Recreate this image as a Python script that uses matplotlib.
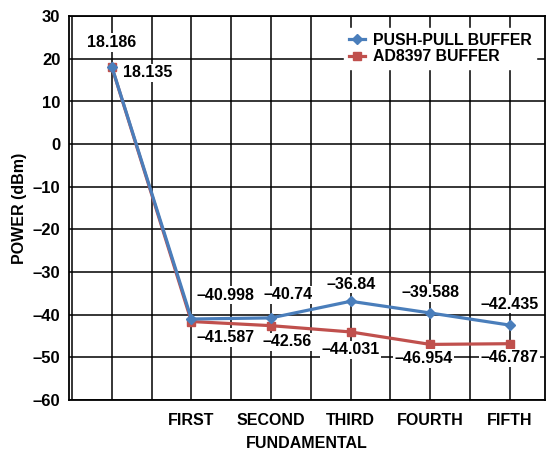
import matplotlib.pyplot as plt
import numpy as np

plt.rcParams['font.family'] = ['Liberation Sans', 'DejaVu Sans']
plt.rcParams['font.weight'] = 'bold'

categories = ['', 'FIRST', 'SECOND', 'THIRD', 'FOURTH', 'FIFTH']
push_pull = [18.186, -40.998, -40.74, -36.84, -39.588, -42.435]
ad8397 = [18.135, -41.587, -42.56, -44.031, -46.954, -46.787]

# label offsets in pixels (dx, dy), dy positive = up
pp_offsets = [(0, 24), (34, 24), (17, 23), (0, 17), (0, 20), (0, 21)]
ad_offsets = [(36, -6), (34, -16), (16, -16), (0, -18), (-7, -14), (0, -14)]

blue = '#4a7ebb'
red = '#c0504d'

fig = plt.figure(figsize=(5.46, 4.5), dpi=100)
ax = fig.add_axes([0.126, 0.111, 0.872, 0.853])

x = np.arange(len(categories))
ax.plot(x, push_pull, color=blue, lw=2.3, marker='D', ms=5.5, label='PUSH-PULL BUFFER', zorder=4)
ax.plot(x, ad8397, color=red, lw=2.3, marker='s', ms=6, label='AD8397 BUFFER', zorder=3)

box = dict(boxstyle='square,pad=0.1', fc='white', ec='none')
for i in range(len(x)):
    ax.annotate(f'{push_pull[i]:g}'.replace('-', '\u2013'), (x[i], push_pull[i]),
                xytext=pp_offsets[i], textcoords='offset pixels', ha='center', va='center',
                fontsize=11.5, fontweight='bold', bbox=box, zorder=5)
    ax.annotate(f'{ad8397[i]:g}'.replace('-', '\u2013'), (x[i], ad8397[i]),
                xytext=ad_offsets[i], textcoords='offset pixels', ha='center', va='center',
                fontsize=11.5, fontweight='bold', bbox=box, zorder=5)

ax.set_xlim(-0.54, 5.44)
ax.set_ylim(-60, 30)
ax.set_xticks(x)
ax.set_xticklabels(categories, fontsize=11.5, fontweight='bold')
ax.set_xticks(np.arange(-0.5, 5.5, 0.5), minor=True)
yt = np.arange(-60, 31, 10)
ax.set_yticks(yt)
ax.set_yticklabels([str(v).replace('-', '\u2013') for v in yt], fontsize=12, fontweight='bold')
ax.tick_params(which='both', length=0)
ax.tick_params(axis='x', pad=9)
ax.tick_params(axis='y', pad=6)
ax.grid(True, which='both', axis='x', color='black', lw=1.1)
ax.grid(True, which='major', axis='y', color='black', lw=1.1)
ax.set_axisbelow(True)
for s in ax.spines.values():
    s.set_linewidth(1.3)

ax.set_xlabel('FUNDAMENTAL', fontsize=11.5, fontweight='bold', labelpad=6)
ax.set_ylabel('POWER (dBm)', fontsize=11.5, fontweight='bold', labelpad=4)

leg = ax.legend(loc='upper right', bbox_to_anchor=(0.998, 0.99), fontsize=11.4, frameon=True,
                fancybox=False, edgecolor='white', framealpha=1, handlelength=1.0,
                handletextpad=0.5, borderpad=0.3, labelspacing=0.1)
leg.set_zorder(6)

fig.savefig('out.png', dpi=100)
